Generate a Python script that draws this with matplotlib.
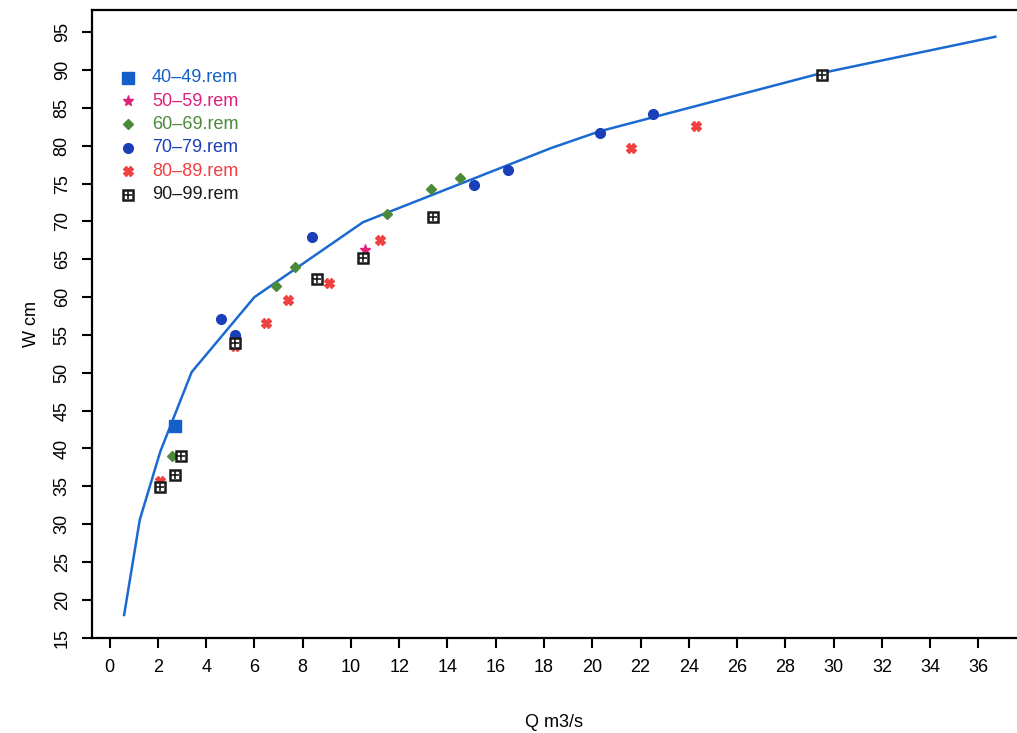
import matplotlib
matplotlib.use("Agg")
import matplotlib.pyplot as plt
plt.rcParams['font.family'] = ['Liberation Sans', 'DejaVu Sans']

line_x = [0.6, 1.25, 2.1, 3.4, 6.0, 10.5, 18.3, 20.3, 29.5, 36.7]
line_y = [18.0, 30.6, 39.6, 50.1, 60.0, 69.9, 79.7, 81.9, 89.6, 94.4]

s40_x = [2.7]; s40_y = [43.0]
s50_x = [10.6]; s50_y = [66.2]
s60_x = [2.6, 6.9, 7.7, 11.5, 13.3, 14.5]; s60_y = [39.0, 61.5, 64.0, 71.0, 74.3, 75.8]
s70_x = [4.6, 5.2, 8.4, 15.1, 16.5, 20.3, 22.5]; s70_y = [57.1, 55.0, 67.9, 74.8, 76.8, 81.7, 84.2]
s80_x = [2.1, 5.2, 6.5, 7.4, 9.1, 11.2, 21.6, 24.3]; s80_y = [35.7, 53.5, 56.6, 59.6, 61.9, 67.5, 79.7, 82.6]
s90_x = [2.1, 2.7, 2.95, 5.2, 8.6, 10.5, 13.4, 29.5]; s90_y = [34.9, 36.5, 39.0, 54.0, 62.4, 65.2, 70.6, 89.4]

labels = ["40\u201349.rem", "50\u201359.rem", "60\u201369.rem", "70\u201379.rem", "80\u201389.rem", "90\u201399.rem"]
colors = ["#1560c8", "#e0207a", "#4a8a3a", "#1a3fb8", "#f04040", "#1a1a1a"]

fig = plt.figure(figsize=(10.17, 7.33), dpi=100)
ax = fig.add_axes([0.090, 0.130, 0.91, 0.856])
ax.plot(line_x, line_y, color="#1a6ad0", lw=1.8, zorder=2)

series = [(s40_x, s40_y), (s50_x, s50_y), (s60_x, s60_y), (s70_x, s70_y), (s80_x, s80_y), (s90_x, s90_y)]
mk = ["s", "*", "D", "o", "X", "s"]
sz = [8, 8, 5, 7, 7, 7]
for (xs, ys), c, m, s in zip(series, colors, mk, sz):
    if c == "#1a1a1a":
        ax.plot(xs, ys, ls="none", marker="s", ms=s, mfc="white", mec=c, mew=1.8, zorder=3)
        ax.plot(xs, ys, ls="none", marker="+", ms=s - 1, color=c, mew=1.2, zorder=4)
    else:
        ax.plot(xs, ys, ls="none", marker=m, ms=s, color=c, zorder=3)

for i, (lab, c, m, s) in enumerate(zip(labels, colors, mk, sz)):
    yy = 89.0 - i * 3.09
    if c == "#1a1a1a":
        ax.plot([0.75], [yy], ls="none", marker="s", ms=s, mfc="white", mec=c, mew=1.8)
        ax.plot([0.75], [yy], ls="none", marker="+", ms=s - 1, color=c, mew=1.2)
    else:
        ax.plot([0.75], [yy], ls="none", marker=m, ms=s, color=c)
    ax.text(1.75, yy, lab, color=c, fontsize=13, va="center", ha="left")

ax.set_xlim(-0.75, 37.6)
ax.set_ylim(15, 97.9)
ax.set_xticks(range(0, 37, 2))
ax.set_yticks(range(15, 96, 5))
for lab in ax.get_yticklabels():
    lab.set_rotation(90)
    lab.set_va("center")
ax.tick_params(direction="out", length=7, width=1.5, labelsize=13, pad=8)
ax.spines["right"].set_visible(False)
for sp in ["left", "bottom", "top"]:
    ax.spines[sp].set_linewidth(1.6)
ax.set_xlabel("Q m3/s", fontsize=13, labelpad=28)
ax.set_ylabel("W cm", fontsize=13, labelpad=10)
fig.savefig("out.png", dpi=100)
